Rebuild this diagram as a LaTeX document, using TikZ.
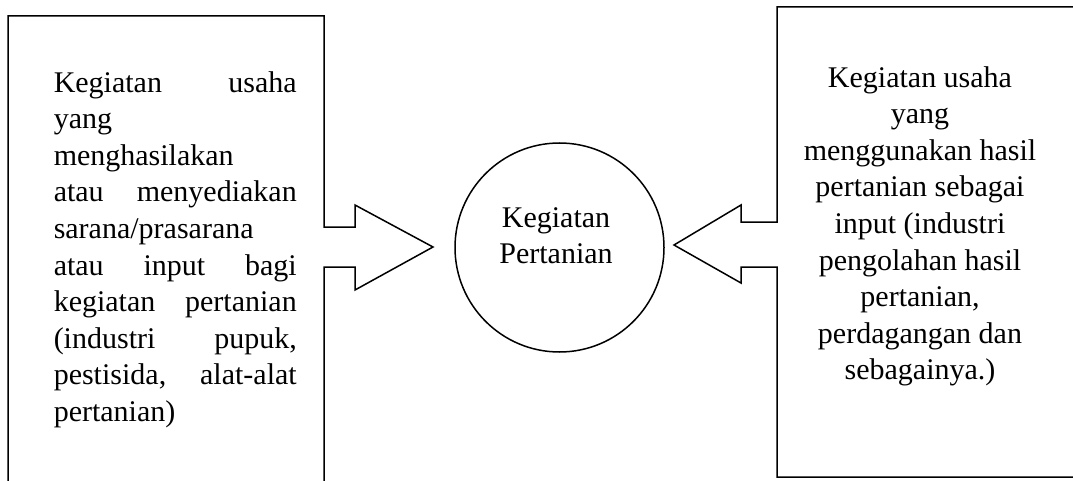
\documentclass[tikz,border=0pt]{standalone}
\usepackage{fontspec}
\setmainfont{Liberation Serif}
\newcommand\jline[1]{\makebox[243pt][s]{#1}}
\begin{document}
\begin{tikzpicture}[x=1pt,y=-1pt, line width=1.5pt, line join=miter,
  boxtext/.style={font=\fontsize{30}{36.6}\selectfont, inner sep=0pt},
  outline/.style={draw=black, line width=1.5pt}]
\useasboundingbox (0,0) rectangle (1073,481);
\fill[white] (0,0) rectangle (1073,481);
% left box with arrow pointing right
\draw[outline] (8,481) -- (8,16) -- (324,16) -- (324,227) -- (355,227) -- (355,205)
  -- (433,247) -- (355,290) -- (355,267) -- (324,267) -- (324,481);
% right box with arrow pointing left
\draw[outline] (1073,7) -- (777,7) -- (777,222) -- (741,222) -- (741,205)
  -- (674,245) -- (741,283) -- (741,267) -- (777,267) -- (777,477) -- (1073,477);
% centre circle
\node[outline, circle, minimum size=209pt, inner sep=0pt] (c) at (559.5,247.5) {};
\node[boxtext, align=center, anchor=north] (ct) at (556,206.5) {Kegiatan\\Pertanian};
% left text
\node[boxtext, align=left, anchor=north west] (lt) at (53,70.5) {%
\jline{Kegiatan usaha}\\
yang\\
menghasilakan\\
\jline{atau menyediakan}\\
sarana/prasarana\\
\jline{atau input bagi}\\
\jline{kegiatan pertanian}\\
\jline{(industri pupuk,}\\
\jline{pestisida, alat-alat}\\
pertanian)};
% right text
\node[boxtext, align=center, anchor=north] (rt) at (920,65.5) {%
Kegiatan usaha\\
yang\\
menggunakan hasil\\
pertanian sebagai\\
input (industri\\
pengolahan hasil\\
pertanian,\\
perdagangan dan\\
sebagainya.)};
\end{tikzpicture}
\end{document}
